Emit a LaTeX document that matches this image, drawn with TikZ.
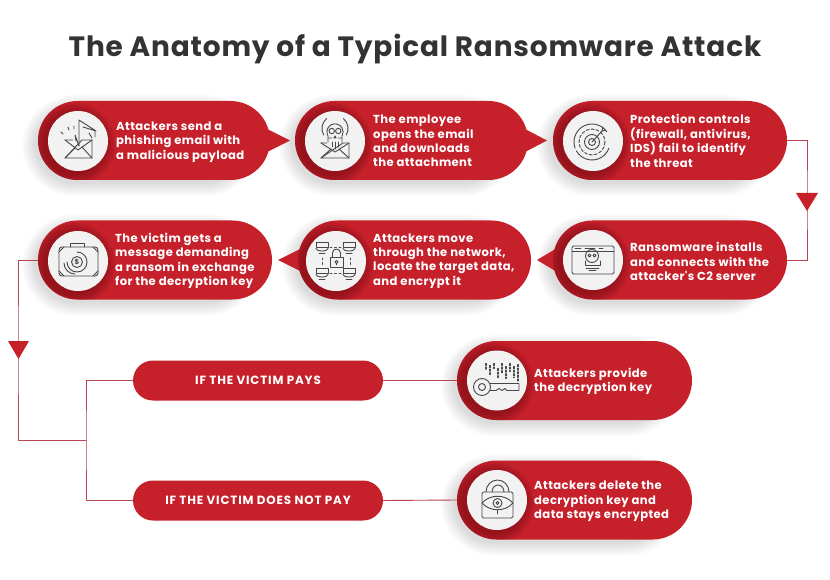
\documentclass[tikz,border=0pt]{standalone}
\usepackage{fontspec}
\setmainfont{Poppins}
\newfontfamily\bodyface[LetterSpace=3.5]{Poppins}
\newfontfamily\titleface[LetterSpace=3]{Poppins}
\newfontfamily\barface[LetterSpace=7]{Poppins}
\usetikzlibrary{shapes.misc,calc}
\definecolor{pillred}{HTML}{C6202B}
\definecolor{pilldark}{HTML}{7E0F16}
\definecolor{linkred}{HTML}{B8434C}
\definecolor{inkgrey}{HTML}{474747}
\definecolor{titleink}{HTML}{333333}
\tikzset{
  x=1pt,y=-1pt,
  pillbody/.style={rounded rectangle,fill=pillred,inner sep=0pt,minimum height=79pt,outer sep=0pt},
  barbody/.style={rounded rectangle,fill=pillred,inner sep=0pt,minimum height=40pt,minimum width=250pt,outer sep=0pt,
     text=white,font=\barface\fontsize{11.9}{13}\selectfont\bfseries},
  tiptri/.style={fill=pillred},
  disc/.style={circle,fill=white!95!black,minimum size=60pt,inner sep=0pt},
  bodytext/.style={anchor=west,align=left,text=white,inner sep=0pt,font=\bodyface\fontsize{11.6}{14.4}\selectfont\bfseries},
  linkline/.style={draw=linkred,line width=0.9pt},
  marker/.style={fill=pillred},
  iconline/.style={draw=inkgrey,line width=0.9pt,line cap=round,line join=round},
  softshade/.style={fill=black,opacity=0.018},
  darkshade/.style={fill=pilldark,opacity=0.15},
}
% shadow + body: name, x0, x1, ycentre
\newcommand{\pillshape}[4]{%
  \pgfmathsetmacro{\pcx}{(#2+#3)/2}\pgfmathsetmacro{\pw}{#3-#2}%
  \foreach \s in {1,3,5,7,9,11,13}{%
    \pgfmathsetmacro{\rr}{39.5+\s}%
    \fill[softshade,rounded corners=\rr pt] ({#2-\s-3},{#4-39.5-\s+7}) rectangle ({#3+\s-25},{#4+39.5+\s+3});
  }%
  \node[pillbody,minimum width=\pw pt] (#1) at (\pcx,#4) {};
}
% crescent + disc: disc name, pill x0, pill x1, pill ycentre, disc x, disc y
\newcommand{\discat}[6]{%
  \begin{scope}
    \clip[rounded corners=39.5pt] (#2,{#4-39.5}) rectangle (#3,{#4+39.5});
    \foreach \r in {31,33,35,37,39,41}{\fill[darkshade] ({#5-4},{#6+3}) circle (\r);}
  \end{scope}
  \node[disc] (#1) at (#5,#6) {};
}
\newcommand{\righttip}[2]{\fill[tiptri] ($(#1.east)+(-4,-12)$) -- ($(#1.east)+(#2,0)$) -- ($(#1.east)+(-4,12)$) -- cycle;}
\newcommand{\lefttip}[2]{\fill[tiptri] ($(#1.west)+(4,-12)$) -- ($(#1.west)+(-#2,0)$) -- ($(#1.west)+(4,12)$) -- cycle;}
\begin{document}
\begin{tikzpicture}
\useasboundingbox (0,0) rectangle (830,580);
\fill[white] (0,0) rectangle (830,580);
\node[text=titleink,font=\titleface\fontsize{27.95}{32}\selectfont\bfseries,inner sep=0pt] (title) at (415,49) {The Anatomy of a Typical Ransomware Attack};

\coordinate (rightturn) at (807,200);
\coordinate (leftturn) at (18,350);
\coordinate (joint) at (86,440);

\pillshape{p4}{553}{787}{260}
\lefttip{p4}{16}
\pillshape{p3}{553}{787}{140.5}
\pillshape{p5}{298}{531}{260}
\lefttip{p5}{20}
\pillshape{p6}{38}{272}{260}
\pillshape{p2}{295}{528}{140.5}
\righttip{p2}{19}
\pillshape{p1}{38}{270}{140.5}
\righttip{p1}{20}
\pillshape{p7}{457}{692}{380.5}
\pillshape{p8}{457}{692}{500}
\node[barbody] (b1) at (258,380.5) {IF THE VICTIM PAYS};
\node[barbody] (b2) at (258,500.5) {IF THE VICTIM DOES NOT PAY};

\draw[linkline] (p3.east) -| (rightturn) |- (p4.east);
\draw[linkline] (p6.west) -| (leftturn) |- (joint);
\draw[linkline] (b1.west) -| (joint) |- (b2.west);
\draw[linkline] (b1.east) -- (p7.west);
\draw[linkline] (b2.east) -- (p8.west);
\fill[marker] (796,193) -- (818,193) -- (807,211) -- cycle;
\fill[marker] (8,341) -- (29,341) -- (18.5,359) -- cycle;

\discat{c1}{38}{270}{140.5}{78}{141}
\discat{c2}{295}{528}{140.5}{335}{141}
\discat{c3}{553}{787}{140.5}{593}{141}
\discat{c4}{553}{787}{260}{593}{260}
\discat{c5}{298}{531}{260}{336}{261}
\discat{c6}{38}{272}{260}{78}{261}
\discat{c7}{457}{692}{380.5}{497}{380.5}
\discat{c8}{457}{692}{500}{497}{500}

% icon 1: phishing email
\begin{scope}[shift={(c1.center)}]
  \draw[iconline] (-13,-1) -- (-5,-1) (4,-1) -- (14,-1) -- (14,17) -- (-13,17) -- cycle;
  \draw[iconline] (14,-1) -- (0,9) -- (-13,-1);
  \draw[iconline] (-13,17) -- (-3,7) (14,17) -- (4,6);
  \draw[iconline] (1,5) -- (1,-21) -- (18,-10) -- (5,-14);
  \draw[iconline] (-2,0) -- (-3,-6) (1,5) -- (-3,-6);
  \draw[iconline] (-15,-7) -- (-17,-9) (-9,-11) -- (-10,-14) (-4,-12) -- (-4,-15) (11,-8) -- (14,-3) (17,-10) -- (17,-4);
\end{scope}
% icon 2: skull email
\begin{scope}[shift={(c2.center)}]
  \draw[iconline] (-14,2) -- (-8,2) (8,2) -- (14,2) -- (14,17) -- (-14,17) -- cycle;
  \draw[iconline] (-14,2) -- (0,11) -- (14,2);
  \draw[iconline] (-14,17) -- (-4,8) (14,17) -- (4,8);
  \draw[iconline] (-7,1) -- (-7,-5) arc (150:390:8.1) -- (7,1);
  \draw[iconline] (-7,-3) -- (-3,-3) (3,-3) -- (7,-3) (0,-5) -- (-1,-3) -- (1,-3) -- cycle;
  \draw[iconline] (-3,1) -- (-3,6) (0,1) -- (0,8) (3,1) -- (3,6);
  \draw[iconline] (-3.3,-10) circle (2.7) (3.3,-10) circle (2.7);
  \draw[iconline] (-11.3,-6) arc (150:230:13) (11.3,-6) arc (30:-50:13);
\end{scope}
% icon 3: target
\begin{scope}[shift={(c3.center)}]
  \draw[iconline] (-1,1) ++(-35:18) arc (-35:-200:18) (-1,1) ++(150:18) arc (150:20:18);
  \draw[iconline,dash pattern=on 3pt off 2pt] (-1,1) circle (13);
  \draw[iconline] (-1,1) circle (7.5) (-1,1) circle (3.5);
  \draw[iconline] (-1,1) -- (9,-10) -- (10,-14) (9,-10) -- (13,-11);
\end{scope}
% icon 4: browser with skull
\begin{scope}[shift={(c4.center)}]
  \draw[iconline,rounded corners=1.5pt] (-21,-14) rectangle (21,14);
  \draw[iconline] (-21,-9) -- (21,-9);
  \draw[iconline] (-18,-11.5) -- (-12,-11.5) (-8,-11.5) -- (2,-11.5) (6,-11.5) -- (10,-11.5);
  \draw[iconline] (-1,-4) circle (6.5);
  \draw[iconline] (-3.5,-4.5) circle (1.5) (1.5,-4.5) circle (1.5);
  \draw[iconline] (-8,1) -- (-8,5) -- (7,5) -- (7,1);
  \draw[iconline] (-7,8) -- (6,8) (-4,10) -- (3,10);
\end{scope}
% icon 5: network with lock
\begin{scope}[shift={(c5.center)}]
  \foreach \a/\b in {-14/-14,13/-14,-14/12,13/12}{
    \draw[iconline] (\a-6,\b-5) -- (\a+6,\b-5) -- (\a+6,\b) -- (\a-6,\b) -- cycle;
    \draw[iconline] (\a-6,\b+1.5) arc (180:0:6 and 2.5);
    \draw[iconline] (\a-3,\b+6) -- (\a+3,\b+6);
  }
  \draw[iconline] (-6,-4) rectangle (7,6);
  \draw[iconline] (-3.5,-4) -- (-3.5,-8) arc (180:360:4) -- (4.5,-4);
  \draw[iconline] (0.5,1) circle (1.5) (0.5,2.5) -- (0.5,4);
  \draw[iconline,dash pattern=on 2pt off 2.5pt] (-6,-14) -- (5,-14) (-6,12) -- (5,12);
  \draw[iconline,dash pattern=on 2pt off 2.5pt] (-14,-3) -- (-14,4) (14,-3) -- (14,4);
\end{scope}
% icon 6: briefcase with coin
\begin{scope}[shift={(c6.center)}]
  \draw[iconline,rounded corners=3pt] (-19,-14) rectangle (20,15);
  \draw[iconline] (-8,-14) -- (-8,-18) -- (6,-18) -- (6,-14);
  \draw[iconline] (-1,1) circle (5.5);
  \draw[iconline] (-11,1) arc (180:-90:10) (-14,2) arc (180:90:11);
  \node[inner sep=0pt,text=inkgrey,font=\fontsize{7}{8}\selectfont\bfseries] (coinmark) at (-1,1) {\$};
  \draw[iconline] (-19,-9) -- (-14,-14) (20,-9) -- (15,-14) (-19,10) -- (-14,15) (20,10) -- (15,15);
\end{scope}
% icon 7: key and data
\begin{scope}[shift={(c7.center)}]
  \draw[iconline] (-15,6.5) circle (8.5) (-15,6.5) circle (3.5);
  \draw[iconline] (-7,3) -- (22,3) -- (22,10) -- (10,10) -- (8,8) -- (5,10) -- (2,8) -- (-1,10) -- (-7,10);
  \foreach \x/\a/\b in {-11/-17/-10,-7/-15/-6,-3/-17/-12,1/-12/-3,5/-17/-7,9/-14/-2,13/-17/-9,17/-14/-3,21/-16/1}{
    \draw[iconline,line width=1.2pt,dash pattern=on 2pt off 1.6pt] (\x,\a) -- (\x,\b);
  }
\end{scope}
% icon 8: lock with eye
\begin{scope}[shift={(c8.center)}]
  \draw[iconline,rounded corners=1.5pt] (-15,-8) rectangle (16,18);
  \draw[iconline] (-11,-8) arc (180:360:11.5 and 12) (-5,-8) arc (180:360:6 and 7);
  \draw[iconline,fill=white!95!black] (-15,3) .. controls (-7,-6) and (8,-6) .. (16,3) .. controls (8,12) and (-7,12) .. (-15,3) -- cycle;
  \draw[iconline] (0.5,3) circle (4.5) (0.5,3) circle (1.5);
  \draw[iconline] (0.5,10) -- (0.5,14);
\end{scope}

\node[bodytext] (t1) at (116,142) {Attackers send a\\phishing email with\\a malicious payload};
\node[bodytext] (t2) at (373,141) {The employee\\opens the email\\and downloads\\the attachment};
\node[bodytext] (t3) at (630,141) {Protection controls\\(firewall, antivirus,\\IDS) fail to identify\\the threat};
\node[bodytext] (t4) at (630,261.5) {Ransomware installs\\and connects with the\\attacker's C2 server};
\node[bodytext] (t5) at (373,261) {Attackers move\\through the network,\\locate the target data,\\and encrypt it};
\node[bodytext] (t6) at (115,261) {The victim gets a\\message demanding\\a ransom in exchange\\for the decryption key};
\node[bodytext] (t7) at (534,381.5) {Attackers provide\\the decryption key};
\node[bodytext] (t8) at (534,501.5) {Attackers delete the\\decryption key and\\data stays encrypted};
\end{tikzpicture}
\end{document}
